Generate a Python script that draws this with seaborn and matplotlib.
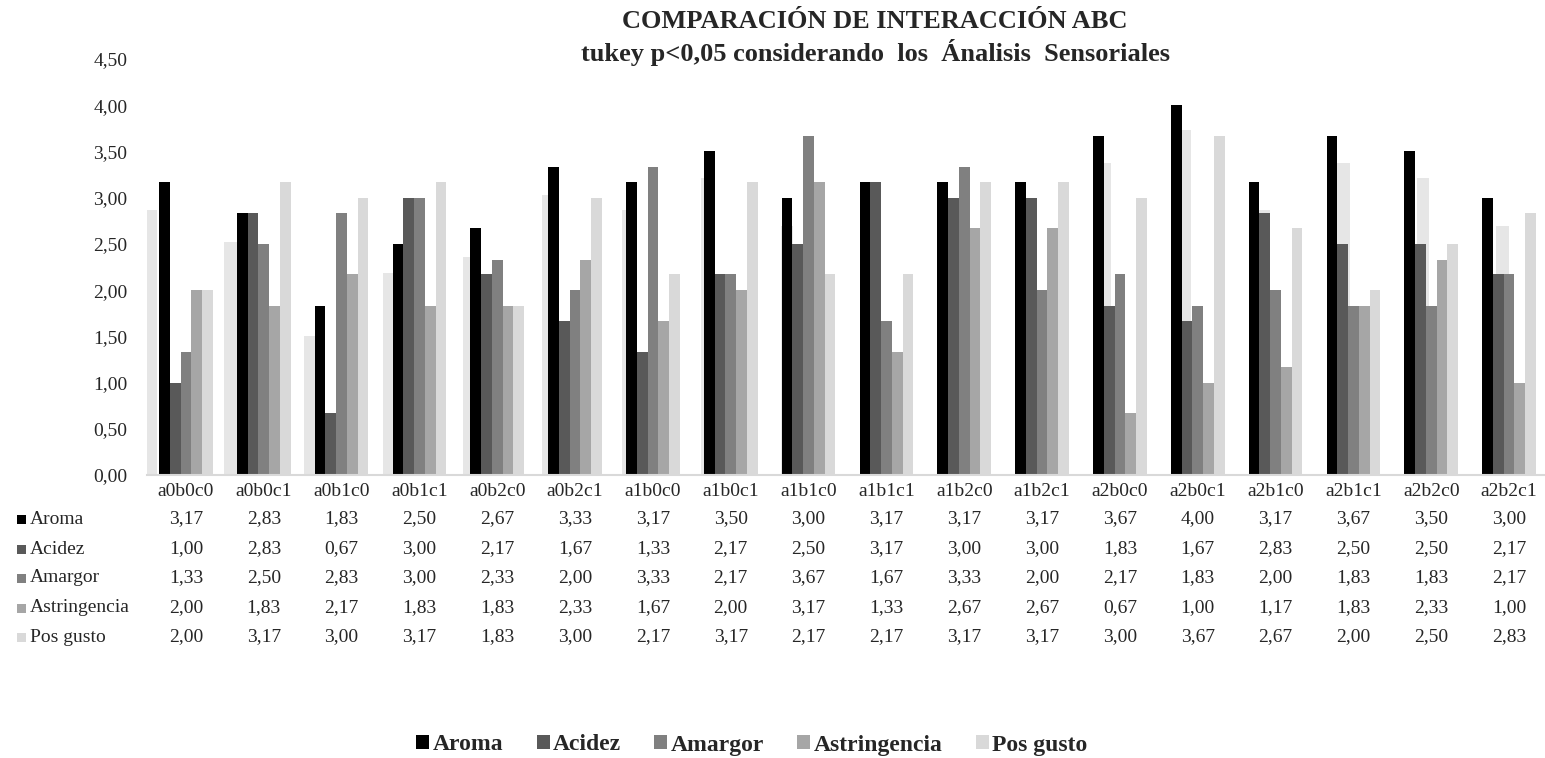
import numpy as np
import pandas as pd
import matplotlib
matplotlib.use('Agg')
import matplotlib.pyplot as plt
import matplotlib.transforms as mtransforms
from matplotlib.patches import Rectangle
import seaborn as sns

combos = ['a0b0c0', 'a0b0c1', 'a0b1c0', 'a0b1c1', 'a0b2c0', 'a0b2c1',
          'a1b0c0', 'a1b0c1', 'a1b1c0', 'a1b1c1', 'a1b2c0', 'a1b2c1',
          'a2b0c0', 'a2b0c1', 'a2b1c0', 'a2b1c1', 'a2b2c0', 'a2b2c1']
atributos = ['Aroma', 'Acidez', 'Amargor', 'Astringencia', 'Pos gusto']
aroma = [3.17, 2.83, 1.83, 2.50, 2.67, 3.33, 3.17, 3.50, 3.00, 3.17, 3.17, 3.17, 3.67, 4.00, 3.17, 3.67, 3.50, 3.00]
acidez = [1.00, 2.83, 0.67, 3.00, 2.17, 1.67, 1.33, 2.17, 2.50, 3.17, 3.00, 3.00, 1.83, 1.67, 2.83, 2.50, 2.50, 2.17]
amargor = [1.33, 2.50, 2.83, 3.00, 2.33, 2.00, 3.33, 2.17, 3.67, 1.67, 3.33, 2.00, 2.17, 1.83, 2.00, 1.83, 1.83, 2.17]
astringencia = [2.00, 1.83, 2.17, 1.83, 1.83, 2.33, 1.67, 2.00, 3.17, 1.33, 2.67, 2.67, 0.67, 1.00, 1.17, 1.83, 2.33, 1.00]
pos_gusto = [2.00, 3.17, 3.00, 3.17, 1.83, 3.00, 2.17, 3.17, 2.17, 2.17, 3.17, 3.17, 3.00, 3.67, 2.67, 2.00, 2.50, 2.83]
# faint leftover bars visible behind the series (nan where fully hidden)
fantasma = [2.87, 2.52, 1.50, 2.18, 2.36, 3.03, 2.87, 3.21, 2.69, np.nan, np.nan, np.nan,
            3.37, 3.73, 2.87, 3.37, 3.21, 2.69]
colores = ['#000000', '#595959', '#808080', '#a6a6a6', '#d9d9d9']

series = [aroma, acidez, amargor, astringencia, pos_gusto]
df = pd.DataFrame({
    'combo': np.tile(combos, len(atributos)),
    'atributo': np.repeat(atributos, len(combos)),
    'valor': np.concatenate(series),
})

sns.set_style('white')
plt.rcParams['font.family'] = ['Liberation Serif', 'DejaVu Serif']

W, H = 1545, 758
fig = plt.figure(figsize=(W / 100, H / 100), dpi=100)
x0px, x1px, ytop, ybot = 147, 1548, 59, 475
rect = [x0px / W, (H - ybot) / H, (x1px - x0px) / W, (ybot - ytop) / H]

# ghost bars behind
ax_g = fig.add_axes(rect)
sns.barplot(x=combos, y=fantasma, order=combos, color='#e6e6e6', width=0.151,
            saturation=1, linewidth=0, ax=ax_g)
pitch_g = 79.5
g0 = -4 / pitch_g
ax_g.set_xlim(g0, g0 + (x1px - x0px) / pitch_g)
ax_g.set_ylim(0, 4.5)
ax_g.axis('off')

ax = fig.add_axes(rect)
ax.patch.set_visible(False)
sns.barplot(data=df, x='combo', y='valor', hue='atributo', order=combos,
            hue_order=atributos, palette=colores, width=0.69, gap=0,
            saturation=1, linewidth=0, ax=ax)
ax.set_xlim(-0.5, 17.5)
ax.set_ylim(0, 4.5)
ax.set_yticks(np.arange(0, 4.51, 0.5))
ax.set_yticklabels([f'{v:.2f}'.replace('.', ',') for v in np.arange(0, 4.51, 0.5)], fontsize=14)
ax.tick_params(axis='y', length=0, pad=14)
ax.tick_params(axis='x', length=0, pad=6, labelsize=14)
ax.set_xlabel('')
ax.set_ylabel('')
for s in ['top', 'right', 'left']:
    ax.spines[s].set_visible(False)
ax.spines['bottom'].set_color('#d9d9d9')
ax.spines['bottom'].set_linewidth(1.5)

handles, labels = ax.get_legend_handles_labels()
ax.get_legend().remove()

# data table under the axis
trans = mtransforms.blended_transform_factory(ax.transData, fig.transFigure)
row_y = [519, 549, 578, 608, 637]
for vals, nombre, c, py in zip(series, atributos, colores, row_y):
    yf = (H - py) / H
    for i, v in enumerate(vals):
        ax.text(i, yf, f'{v:.2f}'.replace('.', ','), transform=trans,
                ha='center', va='center', fontsize=14)
    fig.text(30 / W, yf, nombre, ha='left', va='center', fontsize=14)
    fig.add_artist(Rectangle((17 / W, (H - py - 5) / H), 9 / W, 9 / H,
                             transform=fig.transFigure, color=c, lw=0))

# title
fig.text(875 / W, (H - 22) / H, 'COMPARACIÓN DE INTERACCIÓN ABC',
         ha='center', va='center', fontsize=19, fontweight='bold')
fig.text(875 / W, (H - 52) / H, 'tukey p<0,05 considerando  los  Ánalisis  Sensoriales',
         ha='center', va='center', fontsize=19, fontweight='bold')

fig.legend(handles, labels, loc='center', bbox_to_anchor=(752 / W, (H - 745) / H),
           ncol=5, frameon=False, prop={'weight': 'bold', 'size': 17},
           handlelength=0.55, handleheight=0.55, handletextpad=0.15, columnspacing=1.4)

fig.savefig('out.png', dpi=100)
